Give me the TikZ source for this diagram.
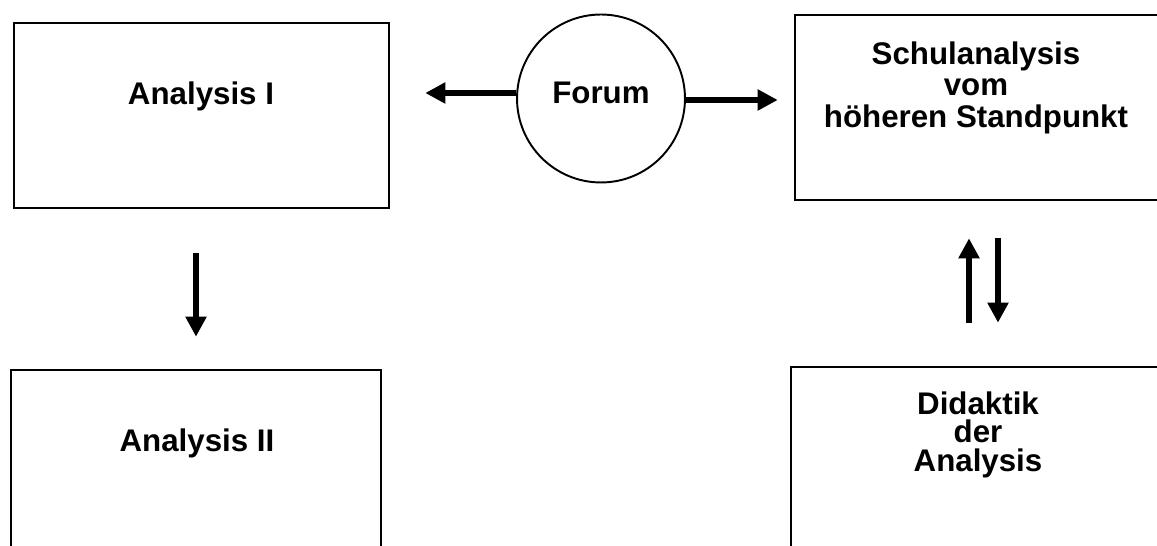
\documentclass[tikz,border=0pt]{standalone}
\usepackage{fontspec}
\setmainfont{Liberation Sans}
\usetikzlibrary{arrows.meta}

\begin{document}
\begin{tikzpicture}[
        x=0.02cm, y=-0.02cm,
        every node/.style={font=\bfseries\fontsize{17.8}{18.2}\selectfont},
        course/.style={draw, line width=1.5pt, inner sep=0pt},
        coursetext/.style={inner sep=0pt, align=center},
        forumcircle/.style={draw, circle, line width=1.1pt, inner sep=0pt,
            minimum size=3.36cm, text height=0.44cm, text depth=0.22cm},
        bigarrow/.style={line width=0.12cm, -{Triangle[length=0.4cm, width=0.4cm]}}
    ]

    % Page frame
    \useasboundingbox (0,0) rectangle (1157,546);
    \clip (0,0) rectangle (1157,546);

    % Course boxes
    \node[course, minimum width=7.5cm, minimum height=3.7cm] (ana1) at (201.5,115.5) {};
    \node[course, minimum width=7.4cm, minimum height=3.8cm] (ana2) at (196,465) {};
    \node[course, minimum width=7.34cm, minimum height=3.7cm] (schul) at (978.5,107.5) {};
    \node[course, minimum width=7.48cm, minimum height=3.86cm] (didak) at (978,463.5) {};

    % Box texts
    \node[coursetext, anchor=base] (ana1text) at (201,105) {Analysis I};
    \node[coursetext, anchor=base] (ana2text) at (197,452) {Analysis II};
    \node[coursetext, anchor=north] (schultext) at (976,41)
    {Schulanalysis\\vom\\höheren Standpunkt};
    \node[coursetext, anchor=north, font=\bfseries\fontsize{17.8}{16.4}\selectfont]
    (didaktext) at (978,391) {Didaktik\\der\\Analysis};

    % Forum in the middle
    \node[forumcircle] (forum) at (601,98.5) {Forum};

    % Arrows
    \draw[bigarrow, shorten >=0.7cm] ([yshift=0.11cm]forum.west)
    -- ([yshift=0.11cm]forum.west -| ana1.east);
    \draw[bigarrow, shorten >=0.32cm] ([yshift=-0.03cm]forum.east)
    -- ([yshift=-0.03cm]forum.east -| schul.west);

    \draw[bigarrow, shorten <=0.88cm, shorten >=0.64cm] (ana1.south -| ana2.north) -- (ana2.north);

    \draw[bigarrow, shorten <=0.86cm, shorten >=0.74cm]
    ([xshift=-0.18cm]didak.north) -- ([xshift=-0.18cm]didak.north |- schul.south);
    \draw[bigarrow, shorten <=0.74cm, shorten >=0.86cm]
    ([xshift=0.4cm]didak.north |- schul.south) -- ([xshift=0.4cm]didak.north);

\end{tikzpicture}
\end{document}
